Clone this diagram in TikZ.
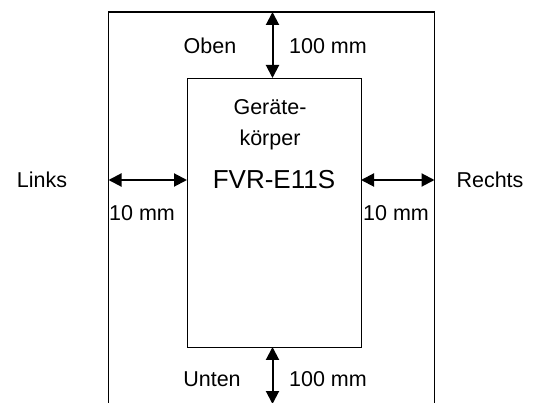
\documentclass[tikz,border=0pt]{standalone}
\usepackage{fontspec}
\setmainfont{Liberation Sans}
\usetikzlibrary{arrows.meta}
\begin{document}
\begin{tikzpicture}[x=1pt,y=-1pt,
  lbl/.style={font=\fontsize{21.5}{24}\selectfont, inner sep=0pt},
  dim/.style={line width=2pt, {Triangle[length=13pt,width=13pt]}-{Triangle[length=13pt,width=13pt]}},
  frame/.style={line width=1.3pt}]
\useasboundingbox (0,0) rectangle (533,403);
\clip (0,0) rectangle (533,403);
\coordinate (otl) at (108.5,12);
\coordinate (otr) at (434.5,12);
\coordinate (obl) at (108.5,410);
\coordinate (obr) at (434.5,410);
\draw[frame] (obl) -- (otl) -- (otr) -- (obr);
\node[draw, frame, minimum width=174pt, minimum height=269pt, anchor=north west, inner sep=0pt] (body) at (187,78) {};
% arrows
\coordinate (topA) at (272.5,12);
\coordinate (topB) at (272.5,78);
\coordinate (botA) at (272.5,347);
\coordinate (botB) at (272.5,404);
\coordinate (leftA) at (108.5,180);
\coordinate (leftB) at (187,180);
\coordinate (rightA) at (361,180);
\coordinate (rightB) at (434.5,180);
\draw[dim] (topA) -- (topB);
\draw[dim] (botA) -- (botB);
\draw[dim] (leftA) -- (leftB);
\draw[dim] (rightA) -- (rightB);
% labels
\node[lbl] (oben) at (210,46) {Oben};
\node[lbl] (obmm) at (328,46) {100 mm};
\node[lbl] (unten) at (212,379) {Unten};
\node[lbl] (unmm) at (328,379) {100 mm};
\node[lbl] (links) at (42,180) {Links};
\node[lbl] (rechts) at (490,180) {Rechts};
\node[lbl] (lmm) at (142,213) {10 mm};
\node[lbl] (rmm) at (396,213) {10 mm};
\node[lbl] (g1) at (270,107) {Geräte-};
\node[lbl] (g2) at (270,140) {körper};
\node[font=\fontsize{26}{28}\selectfont, inner sep=0pt] (model) at (274,180) {FVR-E11S};
\end{tikzpicture}
\end{document}
